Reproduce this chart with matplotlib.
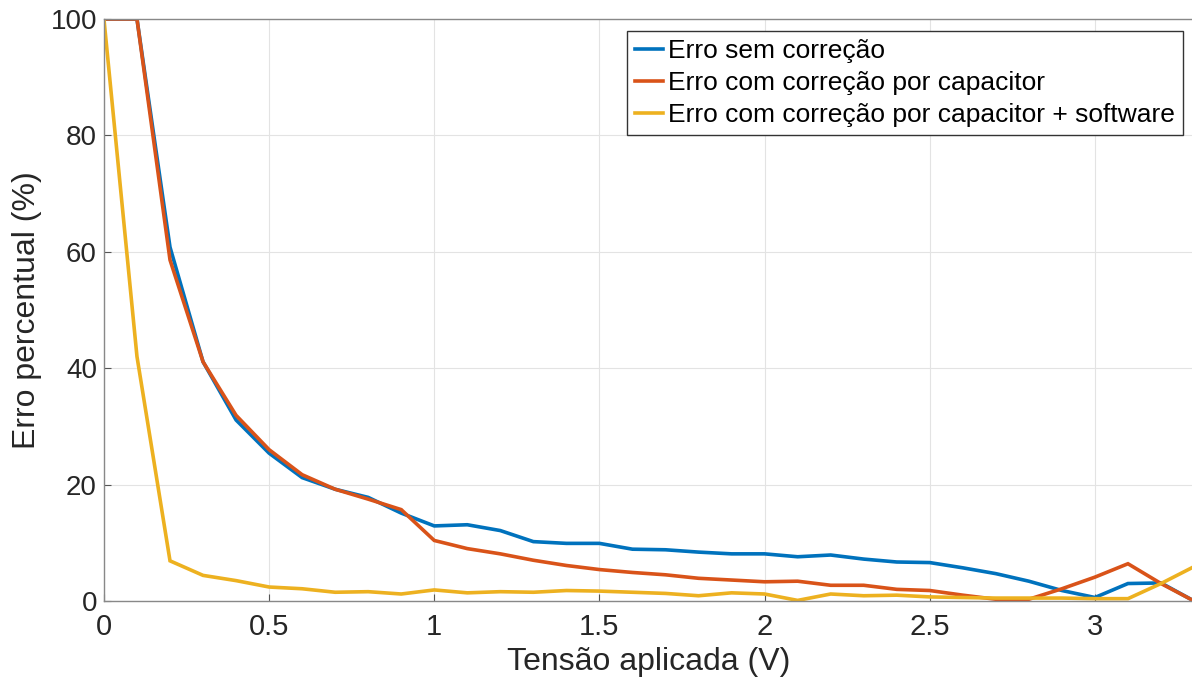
import numpy as np
import matplotlib
matplotlib.use("Agg")
import matplotlib.pyplot as plt

# Tensão aplicada (V)
tensao = [0.0, 0.1, 0.2, 0.3, 0.4, 0.5, 0.6, 0.7, 0.8, 0.9, 1.0, 1.1,
          1.2, 1.3, 1.4, 1.5, 1.6, 1.7, 1.8, 1.9, 2.0, 2.1, 2.2, 2.3,
          2.4, 2.5, 2.6, 2.7, 2.8, 2.9, 3.0, 3.1, 3.2, 3.3]

# Erro percentual (%)
erro_sem = [100, 100, 60.8, 41.1, 31.1, 25.4, 21.2, 19.2, 17.8, 15.1, 12.9, 13.1,
            12.1, 10.2, 9.9, 9.9, 8.9, 8.8, 8.4, 8.1, 8.1, 7.6, 7.9, 7.2,
            6.7, 6.6, 5.7, 4.7, 3.4, 1.8, 0.6, 3.0, 3.1, 0.0]
erro_cap = [100, 100, 58.6, 41.1, 31.9, 26.0, 21.7, 19.2, 17.5, 15.7, 10.4, 9.0,
            8.1, 7.0, 6.1, 5.4, 4.9, 4.5, 3.9, 3.6, 3.3, 3.4, 2.7, 2.7,
            2.0, 1.8, 1.0, 0.3, 0.3, 2.1, 4.1, 6.4, 3.0, 0.0]
erro_soft = [100, 42.0, 6.9, 4.4, 3.5, 2.4, 2.1, 1.5, 1.6, 1.2, 1.9, 1.4,
             1.6, 1.5, 1.8, 1.7, 1.5, 1.3, 0.9, 1.4, 1.2, 0.1, 1.2, 0.9,
             1.0, 0.7, 0.6, 0.5, 0.5, 0.5, 0.4, 0.4, 3.0, 5.9]

nomes = ["Erro sem correção",
         "Erro com correção por capacitor",
         "Erro com correção por capacitor + software"]
cores = ["#0072BD", "#D95319", "#EDB120"]

plt.rcParams["font.family"] = ["Liberation Sans", "DejaVu Sans"]

fig = plt.figure(figsize=(11.92, 6.87), dpi=100)
ax = fig.add_axes([0.0872, 0.1252, 0.9145, 0.8471])

for serie, nome, cor in zip([erro_sem, erro_cap, erro_soft], nomes, cores):
    ax.plot(tensao, serie, color=cor, lw=2.6, label=nome, solid_joinstyle="miter")

ax.set_xlim(0, 3.3)
ax.set_ylim(0, 100)
ax.set_xticks([0, 0.5, 1, 1.5, 2, 2.5, 3])
ax.set_xticklabels(["0", "0.5", "1", "1.5", "2", "2.5", "3"])
ax.set_yticks([0, 20, 40, 60, 80, 100])
ax.tick_params(labelsize=20)
ax.tick_params(direction="in", length=5, width=0.8, colors="#555555",
               labelcolor="#262626")
ax.tick_params(axis="x", labelsize=21, pad=9)
ax.tick_params(axis="y", pad=5)

ax.grid(True, color="#e3e3e3", lw=0.8)
ax.set_axisbelow(True)
for lado in ["left", "bottom", "top"]:
    ax.spines[lado].set_color("#888888")
    ax.spines[lado].set_linewidth(1.0)
ax.spines["right"].set_visible(False)

ax.set_xlabel("Tensão aplicada (V)", fontsize=23, color="#262626", labelpad=4)
ax.set_ylabel("Erro percentual (%)", fontsize=23, color="#262626", labelpad=6)

leg = ax.legend(loc="upper right", bbox_to_anchor=(0.99, 0.979), fontsize=19,
                frameon=True, fancybox=False, framealpha=1, edgecolor="#333333",
                handlelength=1.05, handletextpad=0.2, borderpad=0.3,
                labelspacing=0.3, borderaxespad=0)
leg.get_frame().set_linewidth(1.0)

fig.savefig("out.png", dpi=100)
